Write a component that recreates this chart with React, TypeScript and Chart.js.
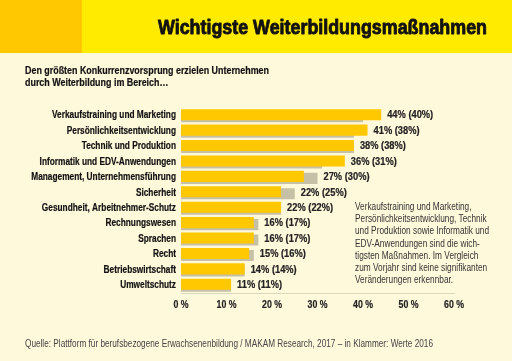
import React, { useEffect, useRef } from 'react';
import { Chart, registerables } from 'chart.js';

Chart.register(...registerables);

const categories = [
  'Verkaufstraining und Marketing',
  'Persönlichkeitsentwicklung',
  'Technik und Produktion',
  'Informatik und EDV-Anwendungen',
  'Management, Unternehmensführung',
  'Sicherheit',
  'Gesundheit, Arbeitnehmer-Schutz',
  'Rechnungswesen',
  'Sprachen',
  'Recht',
  'Betriebswirtschaft',
  'Umweltschutz',
];
const values2017 = [44, 41, 38, 36, 27, 22, 22, 16, 16, 15, 14, 11];
const values2016 = [40, 38, 38, 31, 30, 25, 22, 17, 17, 16, 14, 11];
const xTickValues = [0, 10, 20, 30, 40, 50, 60];

const title = 'Wichtigste Weiterbildungsmaßnahmen';
const subtitleLines = [
  'Den größten Konkurrenzvorsprung erzielen Unternehmen',
  'durch Weiterbildung im Bereich…',
];
const noteLines = [
  'Verkaufstraining und Marketing,',
  'Persönlichkeitsentwicklung, Technik',
  'und Produktion sowie Informatik und',
  'EDV-Anwendungen sind die wich-',
  'tigsten Maßnahmen. Im Vergleich',
  'zum Vorjahr sind keine signifikanten',
  'Veränderungen erkennbar.',
];
const sourceText =
  'Quelle: Plattform für berufsbezogene Erwachsenenbildung / MAKAM Research, 2017 – in Klammer: Werte 2016';

const FAMILY = '"Liberation Sans", Arial, Helvetica, sans-serif';

function fitScale(ctx: CanvasRenderingContext2D, font: string, sample: string, target: number) {
  ctx.font = font;
  const w = ctx.measureText(sample).width;
  return w > 0 ? target / w : 1;
}

function drawScaled(
  ctx: CanvasRenderingContext2D,
  text: string,
  x: number,
  y: number,
  sx: number,
  align: CanvasTextAlign,
  baseline: CanvasTextBaseline = 'alphabetic',
  stroke = 0
) {
  ctx.save();
  ctx.translate(x, y);
  ctx.scale(sx, 1);
  ctx.textAlign = align;
  ctx.textBaseline = baseline;
  if (stroke > 0) {
    ctx.lineWidth = stroke;
    ctx.strokeStyle = ctx.fillStyle as string;
    ctx.lineJoin = 'round';
    ctx.strokeText(text, 0, 0);
  }
  ctx.fillText(text, 0, 0);
  ctx.restore();
}

export default function App() {
  const ref = useRef<HTMLCanvasElement>(null);

  useEffect(() => {
    document.body.style.margin = '0';
    const canvas = ref.current;
    if (!canvas) return;

    const decor = {
      id: 'decor',
      beforeDraw(chart: any) {
        const ctx: CanvasRenderingContext2D = chart.ctx;
        ctx.save();
        ctx.fillStyle = '#FFF9DC';
        ctx.fillRect(0, 0, 512, 361);
        ctx.fillStyle = '#FFEB00';
        ctx.fillRect(0, 0, 512, 53);
        ctx.fillStyle = '#FFC800';
        ctx.fillRect(0, 0, 82, 53);

        // title
        ctx.fillStyle = '#111';
        let f = `bold 21px ${FAMILY}`;
        let sx = fitScale(ctx, f, title, 329);
        drawScaled(ctx, title, 487, 34, sx, 'right', 'alphabetic', 0.9);

        // subtitle
        f = `bold 10px ${FAMILY}`;
        sx = fitScale(ctx, f, subtitleLines[0], 244);
        subtitleLines.forEach((l, i) => drawScaled(ctx, l, 25, 74 + i * 12, sx, 'left', 'alphabetic', 0.2));

        // note
        ctx.fillStyle = '#333';
        f = `10px ${FAMILY}`;
        sx = fitScale(ctx, f, noteLines[2], 134);
        noteLines.forEach((l, i) => drawScaled(ctx, l, 355, 210 + i * 12.2, sx, 'left'));

        // source
        ctx.fillStyle = '#444';
        f = `10px ${FAMILY}`;
        sx = fitScale(ctx, f, sourceText, 408);
        drawScaled(ctx, sourceText, 25, 347, sx, 'left');
        ctx.restore();
      },
      afterDatasetsDraw(chart: any) {
        const ctx: CanvasRenderingContext2D = chart.ctx;
        const xs = chart.scales.x;
        const ys = chart.scales.y;
        ctx.save();

        // category labels
        ctx.fillStyle = '#111';
        let f = `bold 10px ${FAMILY}`;
        let sx = fitScale(ctx, f, categories[0], 124);
        categories.forEach((c, i) => {
          drawScaled(ctx, c, xs.left - 5, ys.getPixelForValue(i), sx, 'right', 'middle', 0.2);
        });

        // value labels
        ctx.fillStyle = '#222';
        f = `bold 10px ${FAMILY}`;
        sx = fitScale(ctx, f, '44% (40%)', 46);
        categories.forEach((_, i) => {
          const a = values2017[i];
          const b = values2016[i];
          const x = xs.getPixelForValue(Math.max(a, b)) + 6;
          drawScaled(ctx, `${a}% (${b}%)`, x, ys.getPixelForValue(i), sx, 'left', 'middle', 0.2);
        });

        // x tick labels
        ctx.fillStyle = '#222';
        f = `bold 10.5px ${FAMILY}`;
        sx = fitScale(ctx, f, '10 %', 20);
        xTickValues.forEach((v) => {
          drawScaled(ctx, `${v} %`, xs.getPixelForValue(v), xs.top + 15, sx, 'center', 'alphabetic', 0.2);
        });
        ctx.restore();
      },
    };

    const chart = new Chart(canvas, {
      type: 'bar',
      data: {
        labels: categories,
        datasets: [
          {
            label: '2017',
            data: values2017,
            backgroundColor: '#FFC800',
            categoryPercentage: 0.26,
            barPercentage: 5.5,
          },
          {
            label: '2016',
            data: values2016,
            backgroundColor: '#C6C0A6',
            categoryPercentage: 0.26,
            barPercentage: 5.5,
          },
        ],
      },
      options: {
        indexAxis: 'y',
        responsive: false,
        animation: false,
        devicePixelRatio: 1,
        layout: { padding: { top: 108, right: 58, left: 0, bottom: 0 } },
        plugins: { legend: { display: false }, tooltip: { enabled: false } },
        scales: {
          x: {
            min: xTickValues[0],
            max: xTickValues[xTickValues.length - 1],
            ticks: { stepSize: 10, display: false },
            grid: { display: false, drawTicks: false },
            border: { display: true, color: '#DCD6BC' },
            afterFit: (s: any) => {
              s.height = 68;
            },
          },
          y: {
            ticks: { display: false, autoSkip: false },
            grid: { display: false, drawTicks: false },
            border: { display: false },
            afterFit: (s: any) => {
              s.width = 181;
            },
          },
        },
      },
      plugins: [decor],
    } as any);

    return () => chart.destroy();
  }, []);

  return <canvas ref={ref} width={512} height={361} style={{ display: 'block' }} />;
}
